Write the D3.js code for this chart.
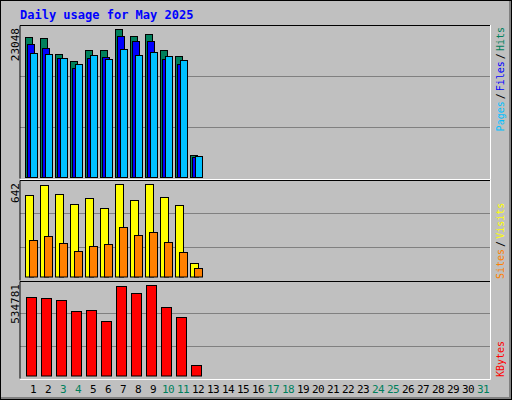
<!DOCTYPE html>
<html lang="en">
<head>
<meta charset="utf-8">
<title>Daily usage for May 2025</title>
<script src="https://cdn.jsdelivr.net/npm/d3@7"></script>
<style>
  body { margin: 0; background: #fff; }
  text { font-family: "DejaVu Sans Mono", monospace; }
</style>
</head>
<body>
<div id="chart"></div>
<script>
    // Data
    var days   = d3.range(1, 32);
    var weekend = [3, 4, 10, 11, 17, 18, 24, 25, 31];
    var hits   = [21755, 21600, 19108, 18018, 19731, 19731, 23048, 21911, 22222, 19731, 18797, 3426];
    var files  = [20712, 20042, 18485, 16928, 18485, 18641, 21911, 21132, 21132, 18329, 17551, 3115];
    var pages  = [19263, 19108, 18485, 17551, 18952, 18329, 19886, 18952, 19419, 18797, 18174, 3224];
    var visits = [565, 635, 572, 502, 544, 475, 642, 530, 642, 551, 495, 91];
    var sites  = [251, 279, 230, 174, 209, 223, 342, 286, 307, 237, 167, 56];
    var kbytes = [462739, 456880, 445165, 380735, 386592, 322162, 527170, 486168, 534781, 404165, 345593, 64432];

    var W = 512, H = 400, left = 20, right = 490;

    var svg = d3.select('#chart').append('svg')
        .attr('width', W).attr('height', H);

    // Outer frame
    svg.append('rect').attr('width', W).attr('height', H).attr('fill', '#c0c0c0');
    svg.append('path').attr('d', 'M0.5,399.5V0.5H511.5').attr('stroke', '#fff').attr('fill', 'none');
    svg.append('path').attr('d', 'M1,398.5H510.5V1').attr('stroke', '#808080').attr('stroke-width', 3).attr('fill', 'none');
    svg.append('rect').attr('x', 0.5).attr('y', 0.5).attr('width', 511).attr('height', 399)
        .attr('stroke', '#000').attr('fill', 'none');

    svg.append('text').attr('x', 20).attr('y', 19)
        .attr('fill', '#0000ff').attr('font-size', 12).attr('font-weight', 'bold')
        .text('Daily usage for May 2025');

    var x = d3.scaleBand().domain(days).range([25, 25 + 15 * 31]);

    // Panels
    var panels = [
        {top: 25, bottom: 178, max: d3.max(hits), base: 177, legendTop: true,
         series: [{v: hits, c: '#00805c', dx: 0, w: 7}, {v: files, c: '#0000ff', dx: 2, w: 7}, {v: pages, c: '#00c0ff', dx: 5, w: 7}],
         labels: [['Pages', '#00c0ff'], ['/', '#000'], ['Files', '#0000ff'], ['/', '#000'], ['Hits', '#00805c']]},
        {top: 180, bottom: 280, max: d3.max(visits), base: 276.5, legendTop: false,
         series: [{v: visits, c: '#ffff00', dx: 0, w: 8}, {v: sites, c: '#ff8000', dx: 4, w: 8}],
         labels: [['Sites', '#ff8000'], ['/', '#000'], ['Visits', '#ffff00']]},
        {top: 281, bottom: 378, max: d3.max(kbytes), base: 375.5, legendTop: false,
         series: [{v: kbytes, c: '#ff0000', dx: 1, w: 10}],
         labels: [['KBytes', '#ff0000']]}
    ];

    panels.forEach(function(p) {
        var g = svg.append('g');
        var y = d3.scaleLinear().domain([0, p.max]).range([p.base, p.top + 4]);

        // grid lines at thirds
        [1, 2].forEach(function(k) {
            var gy = Math.round(p.top + (p.bottom - p.top) * k / 3) + 0.5;
            g.append('line').attr('x1', left).attr('x2', right).attr('y1', gy).attr('y2', gy)
                .attr('stroke', '#808080');
        });
        g.append('path').attr('d', 'M' + left + ',' + (p.bottom + 0.5) + 'V' + (p.top + 0.5) + 'H' + right)
            .attr('stroke', '#000').attr('fill', 'none');
        g.append('path').attr('d', 'M' + left + ',' + (p.bottom + 1.5) + 'H' + (right + 0.5) + 'V' + p.top)
            .attr('stroke', '#fff').attr('fill', 'none');

        p.series.forEach(function(s) {
            g.selectAll(null).data(s.v).enter().append('rect')
                .attr('x', function(d, i) { return x(i + 1) + s.dx + 0.5; })
                .attr('y', function(d) { return Math.round(y(d)) + 0.5; })
                .attr('width', s.w)
                .attr('height', function(d) { return p.base - Math.round(y(d)); })
                .attr('fill', s.c).attr('stroke', '#000');
        });

        // max label
        svg.append('text')
            .attr('transform', 'translate(19,' + (p.top + 3) + ') rotate(-90)')
            .attr('text-anchor', 'end').attr('font-size', 11)
            .attr('font-family', 'DejaVu Sans').attr('fill', '#000')
            .text(p.max);

        // right legend
        var ly = p.legendTop ? p.top + 2 : p.bottom - 1;
        var t = svg.append('text')
            .attr('transform', 'translate(504,' + ly + ') rotate(-90)')
            .attr('text-anchor', p.legendTop ? 'end' : 'start')
            .attr('font-size', 10);
        t.selectAll('tspan').data(p.labels).enter().append('tspan')
            .attr('fill', function(d) { return d[1]; })
            .attr('dx', function(d, i) { return i ? 2 : 0; })
            .text(function(d) { return d[0]; });
    });

    // Day labels
    svg.selectAll('.day').data(days).enter().append('text')
        .attr('x', function(d) { return x(d) + 8; })
        .attr('y', 393).attr('text-anchor', 'middle')
        .attr('font-family', 'DejaVu Sans').attr('font-size', 11)
        .attr('letter-spacing', -0.5)
        .attr('fill', function(d) { return weekend.indexOf(d) >= 0 ? '#00805c' : '#000'; })
        .text(function(d) { return d; });
</script>
</body>
</html>
